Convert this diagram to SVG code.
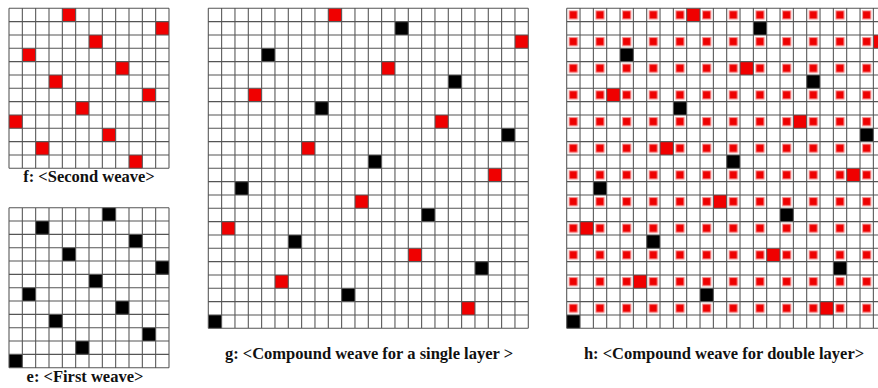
<svg xmlns="http://www.w3.org/2000/svg" xmlns:xlink="http://www.w3.org/1999/xlink" width="878" height="388" viewBox="0 0 878 388">
<style>
.ln{fill:none;stroke:#555;stroke-width:0.08}
.r{fill:#f00000}
.k{fill:#000}
.cap{font-family:"Liberation Serif","Times New Roman",serif;font-weight:bold;font-size:16.5px;fill:#111;text-anchor:middle}
</style>
<defs>
<path id="grid12" d="M0 0V12M1 0V12M2 0V12M3 0V12M4 0V12M5 0V12M6 0V12M7 0V12M8 0V12M9 0V12M10 0V12M11 0V12M12 0V12M0 0H12M0 1H12M0 2H12M0 3H12M0 4H12M0 5H12M0 6H12M0 7H12M0 8H12M0 9H12M0 10H12M0 11H12M0 12H12"/>
<path id="grid24" d="M0 0V24M1 0V24M2 0V24M3 0V24M4 0V24M5 0V24M6 0V24M7 0V24M8 0V24M9 0V24M10 0V24M11 0V24M12 0V24M13 0V24M14 0V24M15 0V24M16 0V24M17 0V24M18 0V24M19 0V24M20 0V24M21 0V24M22 0V24M23 0V24M24 0V24M0 0H24M0 1H24M0 2H24M0 3H24M0 4H24M0 5H24M0 6H24M0 7H24M0 8H24M0 9H24M0 10H24M0 11H24M0 12H24M0 13H24M0 14H24M0 15H24M0 16H24M0 17H24M0 18H24M0 19H24M0 20H24M0 21H24M0 22H24M0 23H24M0 24H24"/>
<g id="gcells">
<rect class="r" x="9" y="0" width="1" height="1"/><rect class="r" x="23" y="2" width="1" height="1"/><rect class="r" x="13" y="4" width="1" height="1"/><rect class="r" x="3" y="6" width="1" height="1"/><rect class="r" x="17" y="8" width="1" height="1"/><rect class="r" x="7" y="10" width="1" height="1"/><rect class="r" x="21" y="12" width="1" height="1"/><rect class="r" x="11" y="14" width="1" height="1"/><rect class="r" x="1" y="16" width="1" height="1"/><rect class="r" x="15" y="18" width="1" height="1"/><rect class="r" x="5" y="20" width="1" height="1"/><rect class="r" x="19" y="22" width="1" height="1"/>
<rect class="k" x="14" y="1" width="1" height="1"/><rect class="k" x="4" y="3" width="1" height="1"/><rect class="k" x="18" y="5" width="1" height="1"/><rect class="k" x="8" y="7" width="1" height="1"/><rect class="k" x="22" y="9" width="1" height="1"/><rect class="k" x="12" y="11" width="1" height="1"/><rect class="k" x="2" y="13" width="1" height="1"/><rect class="k" x="16" y="15" width="1" height="1"/><rect class="k" x="6" y="17" width="1" height="1"/><rect class="k" x="20" y="19" width="1" height="1"/><rect class="k" x="10" y="21" width="1" height="1"/><rect class="k" x="0" y="23" width="1" height="1"/>
</g>
<pattern id="dots" patternUnits="userSpaceOnUse" x="0" y="0" width="2" height="2">
<rect x="0.19" y="0.19" width="0.62" height="0.62" fill="#ee0000" stroke="#f59a9a" stroke-width="0.08"/>
</pattern>
</defs>
<rect width="878" height="388" fill="#fff"/>

<g id="weave-f" transform="translate(9,8.3) scale(13.333)">
<rect class="r" x="4" y="0" width="1" height="1"/><rect class="r" x="11" y="1" width="1" height="1"/><rect class="r" x="6" y="2" width="1" height="1"/><rect class="r" x="1" y="3" width="1" height="1"/><rect class="r" x="8" y="4" width="1" height="1"/><rect class="r" x="3" y="5" width="1" height="1"/><rect class="r" x="10" y="6" width="1" height="1"/><rect class="r" x="5" y="7" width="1" height="1"/><rect class="r" x="0" y="8" width="1" height="1"/><rect class="r" x="7" y="9" width="1" height="1"/><rect class="r" x="2" y="10" width="1" height="1"/><rect class="r" x="9" y="11" width="1" height="1"/>
<use xlink:href="#grid12" class="ln"/>
</g>
<text id="cap-f" class="cap" x="89" y="182">f: &lt;Second weave&gt;</text>

<g id="weave-e" transform="translate(9,207.7) scale(13.333)">
<rect class="k" x="7" y="0" width="1" height="1"/><rect class="k" x="2" y="1" width="1" height="1"/><rect class="k" x="9" y="2" width="1" height="1"/><rect class="k" x="4" y="3" width="1" height="1"/><rect class="k" x="11" y="4" width="1" height="1"/><rect class="k" x="6" y="5" width="1" height="1"/><rect class="k" x="1" y="6" width="1" height="1"/><rect class="k" x="8" y="7" width="1" height="1"/><rect class="k" x="3" y="8" width="1" height="1"/><rect class="k" x="10" y="9" width="1" height="1"/><rect class="k" x="5" y="10" width="1" height="1"/><rect class="k" x="0" y="11" width="1" height="1"/>
<use xlink:href="#grid12" class="ln"/>
</g>
<text id="cap-e" class="cap" x="85" y="382">e: &lt;First weave&gt;</text>

<g id="weave-g" transform="translate(208.3,8.3) scale(13.333)">
<use xlink:href="#gcells"/>
<use xlink:href="#grid24" class="ln"/>
</g>
<text id="cap-g" class="cap" x="369" y="359">g: &lt;Compound weave for a single layer &gt;</text>

<g id="weave-h" transform="translate(566.7,8.3) scale(13.333)">
<rect x="0" y="0" width="24" height="24" fill="url(#dots)"/>
<use xlink:href="#gcells"/>
<use xlink:href="#grid24" class="ln"/>
</g>
<text id="cap-h" class="cap" x="724" y="359">h: &lt;Compound weave for double layer&gt;</text>
</svg>
